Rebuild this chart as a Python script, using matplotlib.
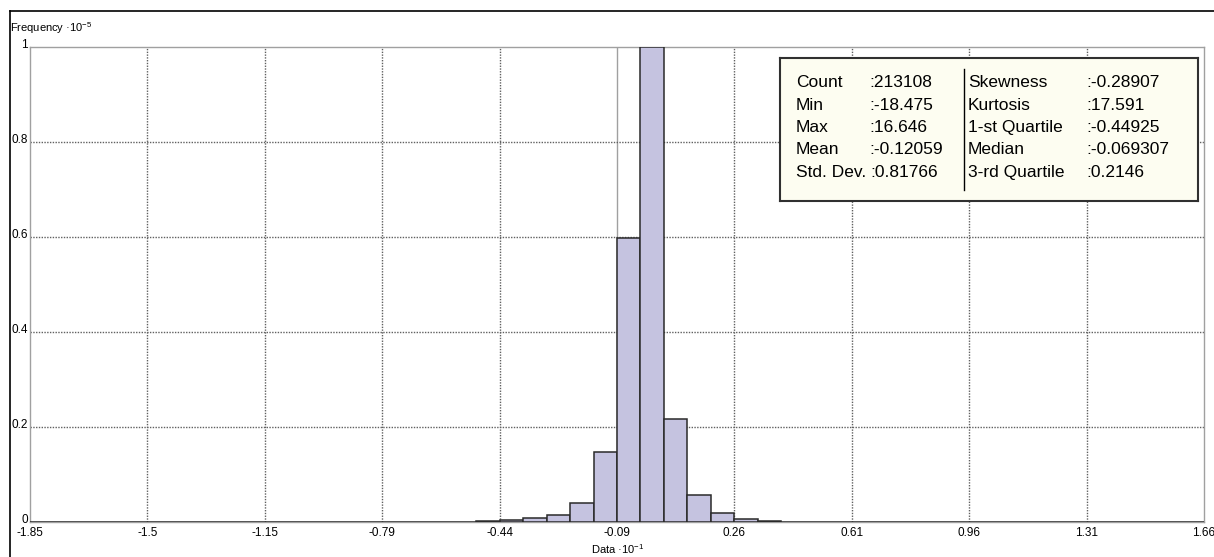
import matplotlib
matplotlib.use("Agg")
import matplotlib.pyplot as plt
import numpy as np
from matplotlib.lines import Line2D

plt.rcParams['font.family'] = ['Liberation Sans', 'DejaVu Sans']
plt.rcParams['mathtext.fontset'] = 'custom'
plt.rcParams['mathtext.rm'] = 'Liberation Sans'
plt.rcParams['mathtext.it'] = 'Liberation Sans'

# data (x in units of 10^-1, frequency normalised to peak, units of 10^-5)
x_min, x_max = -1.8475, 1.6646
n_bins = 50
freq = [0.001, 0, 0, 0, 0, 0, 0, 0, 0, 0,
        0, 0.001, 0.001, 0.001, 0.001, 0, 0, 0, 0, 0.002,
        0.005, 0.008, 0.015, 0.040, 0.147, 0.598, 1.0, 0.217, 0.057, 0.018,
        0.006, 0.002, 0, 0, 0, 0, 0, 0, 0, 0,
        0, 0, 0, 0, 0, 0, 0.001, 0, 0, 0.001]
xtick_labels = ['-1.85', '-1.5', '-1.15', '-0.79', '-0.44', '-0.09',
                '0.26', '0.61', '0.96', '1.31', '1.66']
ytick_vals = [0, 0.2, 0.4, 0.6, 0.8, 1]
ytick_labels = ['0', '0.2', '0.4', '0.6', '0.8', '1']

stat_left = ['Count', 'Min', 'Max', 'Mean', 'Std. Dev.']
stat_left_val = [':213108', ':-18.475', ':16.646', ':-0.12059', ':0.81766']
stat_right = ['Skewness', 'Kurtosis', '1-st Quartile', 'Median', '3-rd Quartile']
stat_right_val = [':-0.28907', ':17.591', ':-0.44925', ':-0.069307', ':0.2146']

W, H = 1214, 557
fig = plt.figure(figsize=(W / 100, H / 100), dpi=100)

def fx(px):
    return px / W

def fy(py):
    return 1 - py / H

# outer frame
fig.add_artist(Line2D([fx(10), fx(10)], [fy(11), 0], color='black', lw=1.2))
fig.add_artist(Line2D([fx(10), 1], [fy(11), fy(11)], color='black', lw=1.2))

ax = fig.add_axes([fx(30), fy(522), fx(1204) - fx(30), fy(47) - fy(522)])
edges = np.linspace(x_min, x_max, n_bins + 1)
ax.bar(edges[:-1], freq, width=np.diff(edges), align='edge',
       color='#c5c3e0', edgecolor='#2a2a2a', linewidth=1.1, zorder=3)

ax.set_xlim(x_min, x_max)
ax.set_ylim(0, 1)
xticks = edges[::5]
ax.set_xticks(xticks)
ax.set_xticklabels(xtick_labels)
ax.set_yticks(ytick_vals)
ax.set_yticklabels([])
ax.tick_params(length=0, labelsize=8.5, colors='black')
ax.tick_params(axis='x', pad=3.5)

# y tick labels sit slightly above their grid lines
for yv, yl in zip(ytick_vals, ytick_labels):
    ax.annotate(yl, xy=(0, yv), xycoords=('axes fraction', 'data'),
                xytext=(-1.5, 1.5), textcoords='offset points',
                ha='right', va='center', fontsize=8.5)

for i, xt in enumerate(xticks[1:-1]):
    if xtick_labels[i + 1] == '-0.09':
        ax.axvline(xt, color='#a0a0a0', lw=1, zorder=1)
    else:
        ax.axvline(xt, color='#606060', lw=1, ls=(0, (1, 1)), zorder=1)
for yt in ytick_vals[1:-1]:
    ax.axhline(yt, color='#606060', lw=1, ls=(0, (1, 1)), zorder=1)

for s in ax.spines.values():
    s.set_color('#a0a0a0')
    s.set_linewidth(1)

fig.text(fx(10), fy(28), r'Frequency ·10$^{-5}$', fontsize=8, va='center', ha='left')
fig.text(fx(618), fy(549), r'Data ·10$^{-1}$', fontsize=8, va='center', ha='center')

# statistics box
bx0, by0, bx1, by1 = 780, 58, 1198, 201
box = fig.add_axes([fx(bx0), fy(by1), fx(bx1) - fx(bx0), fy(by0) - fy(by1)])
box.set_xlim(bx0, bx1)
box.set_ylim(by1, by0)
box.set_facecolor('#fdfdf1')
box.set_xticks([])
box.set_yticks([])
for s in box.spines.values():
    s.set_color('#303030')
    s.set_linewidth(1.5)
box.plot([964, 964], [69, 190], color='black', lw=1)

row_y = [82.7, 105, 127.3, 150, 172.7]
fs = 12.5
fig.canvas.draw()
renderer = fig.canvas.get_renderer()
inv = box.transData.inverted()

def label_end(t):
    bb = t.get_window_extent(renderer)
    return inv.transform((bb.x1, bb.y0))[0]

for i in range(5):
    tl = box.text(796, row_y[i], stat_left[i], fontsize=fs, va='center', ha='left')
    tr = box.text(968, row_y[i], stat_right[i], fontsize=fs, va='center', ha='left')
    lx = max(869, label_end(tl) + 4)
    rx = max(1086, label_end(tr) + 4)
    box.text(lx, row_y[i], stat_left_val[i], fontsize=fs, va='center', ha='left')
    box.text(rx, row_y[i], stat_right_val[i], fontsize=fs, va='center', ha='left')

fig.savefig('out.png', dpi=100, facecolor='white')
